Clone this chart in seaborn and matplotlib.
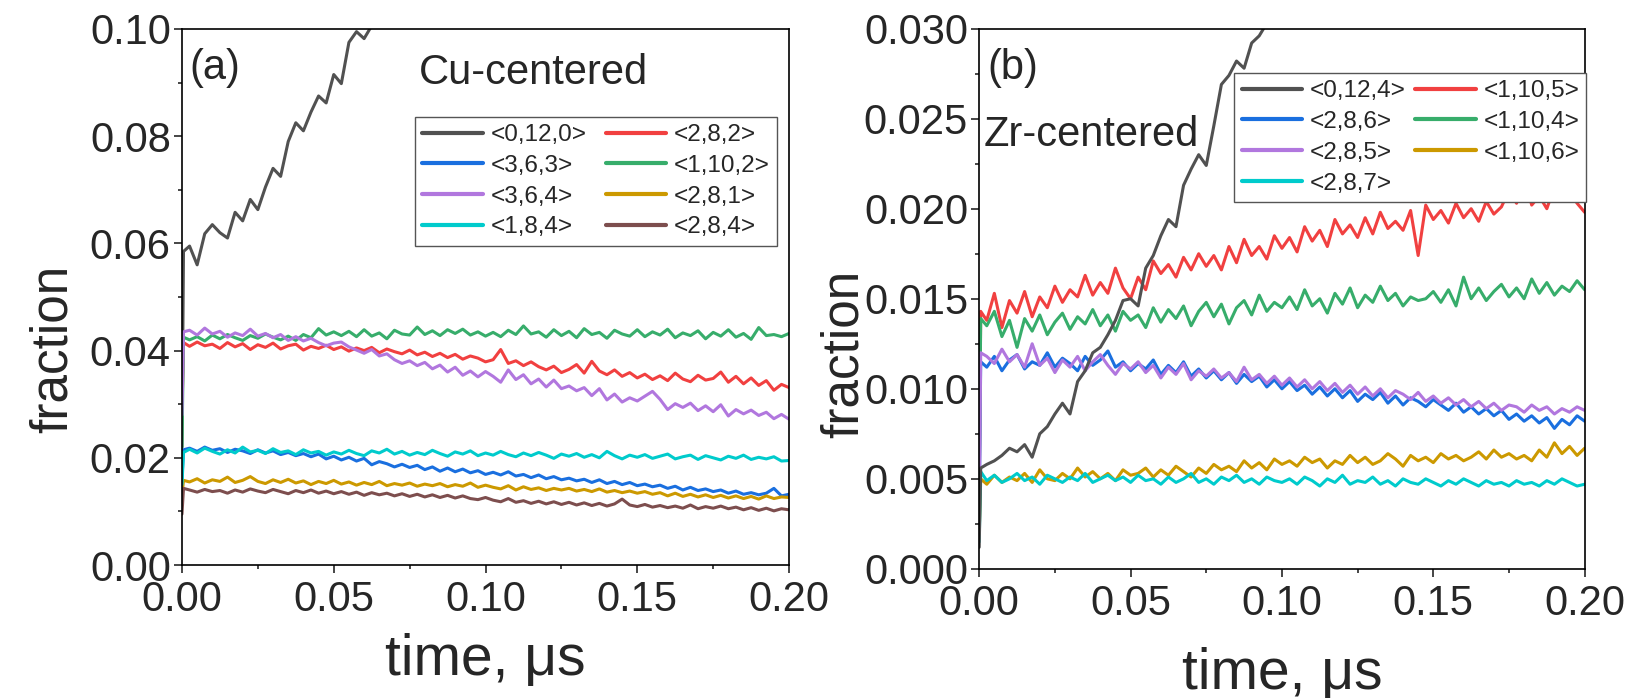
import numpy as np
import pandas as pd
import matplotlib
matplotlib.use("Agg")
import matplotlib.pyplot as plt
from matplotlib.ticker import MultipleLocator, FormatStrFormatter
import seaborn as sns

# time axis (us): t=0, the jump point, then every 0.0025 us
time = np.r_[0.0, 0.0005, np.arange(1, 81) * 0.0025]

# ---- (a) Cu-centered, values in units of 1e-3 ----
cu_0_12_0 = [22.0, 58.5,
             59.5, 56.0, 61.8, 63.5, 62.0, 61.0, 65.8, 64.2, 68.2, 66.3,
             70.5, 74.0, 72.5, 79.0, 82.5, 81.0, 84.5, 87.5, 86.2, 91.5,
             89.8, 97.5, 99.5, 98.2, 100.6, 102.0]
cu_2_8_2 = [28.0, 41.5,
            40.8, 41.6, 40.9, 41.2, 40.4, 41.5, 40.7, 41.3, 40.2, 41.1,
            40.6, 41.4, 40.3, 40.9, 41.2, 40.1, 40.8, 40.4, 41.0, 40.2,
            40.7, 39.9, 40.5, 40.0, 40.6, 39.6, 40.3, 39.8, 39.4, 40.1,
            39.2, 39.7, 38.9, 39.5, 38.7, 39.3, 38.4, 39.0, 38.6, 37.9,
            38.3, 40.2, 37.6, 38.1, 37.2, 37.9, 37.0, 36.4, 37.1, 35.9,
            36.5, 37.4, 35.8, 38.0, 36.2, 35.5, 36.4, 35.2, 35.9, 34.9,
            35.6, 34.6, 35.3, 34.4, 35.8, 34.7, 34.2, 35.4, 34.5, 34.8,
            36.0, 34.1, 35.2, 33.8, 34.9, 33.5, 34.4, 32.6, 33.7, 33.1]
cu_3_6_3 = [16.0, 21.5,
            21.8, 21.2, 22.0, 21.4, 21.7, 21.0, 21.6, 21.3, 20.8, 21.5,
            20.9, 21.3, 20.6, 21.0, 20.4, 20.8, 20.2, 20.7, 19.8, 20.3,
            19.6, 20.1, 19.4, 19.9, 18.7, 19.3, 18.9, 18.3, 18.8, 18.2,
            18.6, 17.8, 18.3, 17.5, 18.1, 17.4, 17.9, 17.2, 17.6, 16.9,
            17.3, 16.8, 17.4, 16.6, 16.9, 16.3, 16.8, 16.1, 16.5, 15.9,
            16.2, 15.7, 16.0, 15.4, 15.9, 15.2, 15.6, 15.0, 15.4, 14.8,
            15.1, 14.6, 14.9, 14.3, 14.7, 14.0, 14.5, 13.9, 14.2, 13.7,
            14.0, 13.4, 13.8, 13.2, 13.5, 13.1, 13.4, 14.3, 12.9, 13.2]
cu_1_10_2 = [22.0, 42.5,
             42.0, 42.6, 41.8, 42.9, 42.2, 43.0, 42.4, 41.9, 42.8, 42.3,
             43.1, 42.5, 42.0, 42.7, 41.9, 43.0, 42.4, 44.1, 42.9, 43.5,
             42.8, 43.6, 42.6, 43.9, 42.7, 43.3, 42.2, 43.8, 43.1, 42.9,
             44.4, 43.0, 43.7, 42.8, 43.9, 43.2, 44.0, 42.9, 43.5, 42.7,
             43.4, 42.6, 43.8, 43.0, 44.6, 43.1, 43.5, 42.5, 43.9, 42.8,
             43.6, 42.4, 44.1, 43.0, 43.4, 42.3, 43.8, 43.1, 42.7, 43.9,
             42.6, 43.5, 42.9, 44.0, 42.4, 43.3, 42.8, 43.7, 42.2, 43.4,
             42.7, 43.9, 42.5, 43.2, 42.1, 44.3, 42.8, 43.0, 42.6, 43.2]
cu_3_6_4 = [28.0, 43.5,
            43.8, 42.9, 44.2, 43.1, 43.6, 42.5, 43.3, 42.8, 44.0, 42.7,
            43.2, 42.4, 43.0, 41.9, 42.6, 41.8, 42.3, 41.5, 40.9, 41.4,
            41.6, 40.7, 40.1, 39.5, 40.2, 39.0, 39.4, 38.3, 37.6, 38.1,
            37.2, 37.8, 36.6, 37.3, 36.0, 36.9, 35.4, 36.2, 35.1, 36.1,
            35.2, 34.1, 36.4, 34.6, 35.5, 33.8, 34.7, 33.2, 34.5, 32.9,
            33.4, 32.5, 33.1, 31.6, 32.9, 30.8, 31.9, 30.4, 31.2, 30.6,
            31.5, 32.4, 30.9, 29.0, 30.1, 29.4, 30.2, 28.8, 29.7, 28.6,
            29.9, 27.8, 29.0, 28.2, 28.9, 27.9, 28.5, 27.3, 28.1, 27.2]
cu_2_8_1 = [13.0, 15.8,
            15.5, 16.1, 15.3, 15.9, 15.6, 16.4, 15.4, 15.8, 16.5, 15.6,
            15.2, 15.9, 15.4, 16.0, 15.3, 15.7, 15.0, 15.6, 15.2, 15.8,
            15.1, 15.5, 14.9, 15.4, 15.0, 15.6, 14.8, 15.2, 14.9, 15.3,
            14.7, 15.1, 14.8, 15.2, 14.6, 15.0, 14.7, 15.3, 14.5, 14.9,
            14.5, 14.2, 14.8, 14.0, 14.6, 14.1, 14.4, 13.9, 14.3, 14.0,
            14.3, 13.8, 14.1, 13.7, 14.2, 13.6, 13.9, 13.5, 13.8, 13.4,
            13.7, 13.2, 13.5, 12.9, 13.4, 12.8, 13.2, 12.7, 13.1, 12.6,
            13.0, 12.5, 12.9, 12.4, 12.8, 12.3, 12.9, 12.4, 12.7, 12.6]
cu_1_8_4 = [15.0, 21.0,
            21.6, 20.9, 21.8, 21.2, 20.7, 21.5, 20.9, 22.0, 21.1, 21.4,
            20.8, 21.7, 21.0, 21.3, 20.6, 21.5, 20.9, 21.2, 20.5, 21.1,
            20.7, 21.4, 20.8, 20.4, 21.3, 20.9, 21.6, 20.7, 21.2, 20.5,
            21.0, 20.6, 21.4, 20.8, 20.3, 21.1, 20.7, 21.3, 20.4, 20.9,
            20.5, 21.2, 20.6, 20.2, 20.9, 20.4, 21.0, 20.5, 19.9, 20.7,
            20.3, 20.8, 20.1, 20.6, 20.0, 21.2, 20.4, 19.8, 20.5, 20.1,
            20.6, 19.9, 20.3, 20.7, 19.8, 20.2, 20.5, 19.7, 20.4, 20.0,
            19.6, 20.3, 19.9, 20.5, 19.7, 20.1, 19.8, 20.2, 19.4, 19.5]
cu_2_8_4 = [9.5, 14.3,
            14.0, 13.6, 14.1, 13.7, 13.9, 13.4, 14.0, 13.6, 14.2, 13.8,
            13.5, 14.1, 13.7, 13.3, 13.9, 13.5, 14.0, 13.4, 13.8, 13.3,
            13.7, 13.2, 13.6, 13.0, 13.5, 13.1, 13.4, 12.9, 13.3, 12.8,
            13.2, 12.7, 13.1, 12.6, 13.0, 12.5, 12.9, 12.4, 12.2, 12.6,
            12.1, 11.8, 12.4, 11.7, 12.0, 11.5, 11.9, 11.4, 11.8, 11.3,
            11.7, 11.2, 11.6, 11.1, 11.5, 11.0, 11.4, 12.3, 11.2, 10.9,
            11.3, 10.8, 11.1, 10.7, 11.0, 10.6, 11.2, 10.5, 10.9, 10.6,
            11.0, 10.5, 10.8, 10.3, 10.7, 10.2, 10.6, 10.1, 10.5, 10.3]

# ---- (b) Zr-centered, values in units of 1e-3 ----
zr_0_12_4 = [1.2, 5.6,
             5.8, 6.0, 6.3, 6.7, 6.5, 6.9, 6.2, 7.5, 7.9, 8.6,
             9.2, 8.6, 10.4, 11.0, 12.0, 12.3, 13.0, 13.8, 14.9, 15.0,
             14.6, 16.7, 17.4, 18.5, 19.4, 19.0, 21.3, 22.2, 23.0, 22.4,
             24.6, 26.9, 27.4, 28.2, 27.8, 29.2, 29.6, 30.3, 31.0]
zr_1_10_5 = [4.0, 14.3,
             13.8, 15.3, 13.4, 14.9, 14.2, 15.4, 14.0, 15.1, 14.5, 15.7,
             14.8, 15.5, 15.1, 16.3, 15.2, 15.9, 15.3, 16.7, 15.6, 15.0,
             16.2, 15.5, 17.1, 16.4, 16.9, 16.2, 17.3, 16.6, 17.5, 16.8,
             17.4, 16.6, 17.9, 17.0, 18.3, 17.4, 17.9, 17.2, 18.5, 17.8,
             18.4, 17.6, 19.0, 18.2, 18.8, 17.9, 19.4, 18.6, 19.1, 18.4,
             19.5, 18.6, 19.8, 18.9, 19.3, 18.8, 19.9, 17.4, 20.2, 19.4,
             19.9, 19.2, 20.3, 19.5, 20.0, 19.3, 20.4, 19.7, 20.1, 21.0,
             20.3, 21.8, 20.2, 20.7, 20.0, 21.2, 20.4, 20.9, 20.3, 19.8]
zr_2_8_6 = [3.0, 11.5,
            11.2, 11.8, 11.0, 11.6, 11.9, 11.1, 11.5, 11.3, 12.0, 11.2,
            11.7, 11.4, 11.0, 11.8, 11.3, 11.6, 12.1, 11.2, 11.5, 11.0,
            11.4, 11.1, 11.6, 10.8, 11.3, 10.9, 11.5, 10.7, 11.1, 10.6,
            11.0, 10.5, 10.9, 10.3, 10.8, 10.4, 10.7, 10.1, 10.5, 10.0,
            10.4, 9.9, 10.2, 9.7, 10.1, 9.6, 10.0, 9.5, 9.9, 9.3,
            9.7, 9.4, 9.8, 9.2, 9.6, 9.1, 9.5, 9.3, 9.0, 9.4,
            9.1, 8.8, 9.2, 8.7, 9.0, 8.6, 8.9, 8.5, 8.8, 8.3,
            8.6, 8.2, 8.5, 8.1, 8.4, 7.8, 8.3, 8.0, 8.5, 8.2]
zr_1_10_4 = [4.5, 13.9,
             13.5, 14.3, 12.9, 13.8, 12.3, 13.9, 13.2, 14.1, 13.0, 13.7,
             14.2, 13.3, 14.0, 13.6, 14.4, 13.5, 14.1, 13.2, 14.3, 13.8,
             14.1, 13.4, 14.5, 13.7, 14.4, 13.9, 14.6, 13.5, 14.3, 14.8,
             14.0, 14.7, 13.6, 14.5, 14.9, 14.1, 15.2, 14.3, 14.8, 14.5,
             15.1, 14.4, 15.5, 14.6, 15.0, 14.2, 15.3, 14.7, 15.6, 14.5,
             15.2, 14.8, 15.7, 14.9, 15.3, 14.6, 15.1, 14.9, 15.0, 15.4,
             14.8, 15.5, 14.6, 16.2, 15.0, 15.6, 14.9, 15.4, 15.8, 15.1,
             15.6, 15.0, 16.1, 15.3, 15.9, 15.2, 15.7, 15.4, 16.0, 15.5]
zr_2_8_5 = [2.5, 12.0,
            11.8, 11.4, 12.2, 11.5, 11.9, 11.2, 12.5, 11.3, 11.7, 10.9,
            11.6, 11.2, 11.8, 11.0, 11.5, 11.9, 11.3, 10.8, 11.4, 11.1,
            11.5, 10.9, 11.3, 10.6, 11.2, 10.8, 11.4, 10.5, 11.0, 10.7,
            11.1, 10.6, 10.9, 10.4, 11.2, 10.5, 10.8, 10.3, 10.7, 10.2,
            10.6, 10.1, 10.5, 10.0, 10.4, 9.9, 10.3, 9.8, 10.2, 9.7,
            10.1, 9.6, 10.0, 9.5, 9.9, 9.7, 9.4, 9.8, 9.3, 9.6,
            9.2, 9.5, 9.1, 9.4, 9.0, 9.3, 8.9, 9.2, 8.8, 9.1,
            9.0, 8.7, 9.1, 8.8, 9.0, 8.6, 8.9, 8.7, 9.0, 8.8]
zr_1_10_6 = [2.0, 5.0,
             4.7, 5.2, 4.8, 5.1, 4.9, 5.3, 4.8, 5.5, 5.0, 4.9,
             5.3, 5.0, 5.6, 5.1, 5.4, 5.0, 5.3, 4.9, 5.5, 5.2,
             5.3, 5.6, 5.1, 5.5, 5.2, 5.7, 5.4, 5.1, 5.6, 5.3,
             5.8, 5.5, 5.7, 5.4, 6.0, 5.6, 5.9, 5.5, 6.1, 5.8,
             6.0, 5.7, 6.2, 5.9, 6.1, 5.6, 6.0, 5.8, 6.3, 5.9,
             6.2, 5.8, 6.0, 6.4, 6.1, 5.7, 6.3, 6.0, 6.2, 5.9,
             6.4, 6.1, 6.3, 6.0, 6.2, 6.5, 6.1, 6.6, 6.2, 6.4,
             6.1, 6.3, 6.0, 6.6, 6.2, 7.0, 6.4, 6.8, 6.3, 6.7]
zr_2_8_7 = [1.5, 5.4,
            4.9, 5.2, 4.8, 5.0, 5.3, 4.9, 5.1, 4.7, 5.2, 5.0,
            4.8, 5.1, 4.9, 5.3, 4.8, 5.0, 5.2, 4.9, 5.1, 4.8,
            5.2, 4.9, 5.0, 4.7, 5.1, 4.8, 5.0, 5.3, 4.8, 5.0,
            4.7, 5.1, 4.9, 5.2, 4.8, 5.0, 4.7, 5.1, 4.9, 4.8,
            5.0, 4.7, 5.1, 4.9, 4.6, 5.0, 4.8, 5.2, 4.7, 4.9,
            4.8, 5.1, 4.7, 4.9, 4.6, 5.0, 4.8, 4.7, 5.0, 4.8,
            4.6, 4.9, 4.7, 5.0, 4.8, 4.6, 4.9, 4.7, 4.8, 4.6,
            4.9, 4.7, 4.8, 4.6, 4.9, 4.7, 5.0, 4.8, 4.6, 4.7]

colors = {"black": "#515151", "red": "#F14040", "blue": "#1A6FDF", "green": "#37AD6B",
          "purple": "#B177DE", "gold": "#CC9900", "cyan": "#00CBCC", "brown": "#7D4E4E"}

# (label, values, color), in drawing order
cu_series = [("<0,12,0>", cu_0_12_0, "black"), ("<2,8,2>", cu_2_8_2, "red"),
             ("<3,6,3>", cu_3_6_3, "blue"), ("<1,10,2>", cu_1_10_2, "green"),
             ("<3,6,4>", cu_3_6_4, "purple"), ("<2,8,1>", cu_2_8_1, "gold"),
             ("<1,8,4>", cu_1_8_4, "cyan"), ("<2,8,4>", cu_2_8_4, "brown")]
cu_legend = ["<0,12,0>", "<3,6,3>", "<3,6,4>", "<1,8,4>",
             "<2,8,2>", "<1,10,2>", "<2,8,1>", "<2,8,4>"]

zr_series = [("<1,10,5>", zr_1_10_5, "red"), ("<2,8,6>", zr_2_8_6, "blue"),
             ("<1,10,4>", zr_1_10_4, "green"), ("<2,8,5>", zr_2_8_5, "purple"),
             ("<1,10,6>", zr_1_10_6, "gold"), ("<2,8,7>", zr_2_8_7, "cyan"),
             ("<0,12,4>", zr_0_12_4, "black")]
zr_legend = ["<0,12,4>", "<2,8,6>", "<2,8,5>", "<2,8,7>",
             "<1,10,5>", "<1,10,4>", "<1,10,6>"]

sns.set_style("ticks")
plt.rcParams["font.family"] = ["Liberation Sans", "DejaVu Sans"]
plt.rcParams["axes.linewidth"] = 1.2

fig = plt.figure(figsize=(16.32, 6.98), dpi=100)
ax1 = fig.add_axes([0.1115, 0.1905, 0.372, 0.768])
ax2 = fig.add_axes([0.600, 0.185, 0.371, 0.774])


def draw(ax, series, order):
    handles = {}
    for lab, vals, c in series:
        df = pd.DataFrame({"time": time[:len(vals)], "fraction": np.array(vals) / 1000})
        sns.lineplot(data=df, x="time", y="fraction", ax=ax, color=colors[c],
                     lw=2.2, estimator=None, sort=False, label=lab, legend=False)
        handles[lab] = ax.lines[-1]
    return [handles[l] for l in order]


h1 = draw(ax1, cu_series, cu_legend)
h2 = draw(ax2, zr_series, zr_legend)

for ax in (ax1, ax2):
    ax.set_xlim(0, 0.2)
    ax.xaxis.set_major_locator(MultipleLocator(0.05))
    ax.xaxis.set_minor_locator(MultipleLocator(0.025))
    ax.xaxis.set_major_formatter(FormatStrFormatter("%.2f"))
    ax.tick_params(which="major", direction="out", length=6, width=1.2, labelsize=30)
    ax.tick_params(which="minor", direction="out", length=3, width=1.2)
    ax.tick_params(axis="y", pad=2)
    ax.tick_params(axis="x", pad=5)
    ax.set_xlabel("time, \u03bcs", fontsize=41)
    ax.set_ylabel("fraction", fontsize=37)
    for s in ax.spines.values():
        s.set_visible(True)
        s.set_color("black")

ax1.xaxis.set_label_coords(0.5, -0.126)
ax2.xaxis.set_label_coords(0.5, -0.145)
ax1.yaxis.set_label_coords(-0.171, 0.403)
ax2.yaxis.set_label_coords(-0.182, 0.398)

ax1.set_ylim(0, 0.1)
ax1.yaxis.set_major_locator(MultipleLocator(0.02))
ax1.yaxis.set_minor_locator(MultipleLocator(0.01))
ax1.yaxis.set_major_formatter(FormatStrFormatter("%.2f"))

ax2.set_ylim(0, 0.03)
ax2.yaxis.set_major_locator(MultipleLocator(0.005))
ax2.yaxis.set_minor_locator(MultipleLocator(0.0025))
ax2.yaxis.set_major_formatter(FormatStrFormatter("%.3f"))

ax1.text(0.012, 0.965, "(a)", transform=ax1.transAxes, fontsize=30, va="top")
ax1.text(0.39, 0.955, "Cu-centered", transform=ax1.transAxes, fontsize=30, va="top")
ax2.text(0.014, 0.965, "(b)", transform=ax2.transAxes, fontsize=30, va="top")
ax2.text(0.008, 0.84, "Zr-centered", transform=ax2.transAxes, fontsize=30, va="top")

leg1 = ax1.legend(handles=h1, labels=cu_legend, ncol=2, loc="upper right",
                  bbox_to_anchor=(0.98, 0.836), borderaxespad=0, fontsize=17.5,
                  handlelength=2.5, handletextpad=0.3, columnspacing=0.8,
                  labelspacing=0.36, borderpad=0.3, fancybox=False, framealpha=1)
leg2 = ax2.legend(handles=h2, labels=zr_legend, ncol=2, loc="upper right",
                  bbox_to_anchor=(1.003, 0.918), borderaxespad=0, fontsize=17.5,
                  handlelength=2.5, handletextpad=0.3, columnspacing=0.4,
                  labelspacing=0.36, borderpad=0.3, fancybox=False, framealpha=1)
for leg in (leg1, leg2):
    leg.get_frame().set_edgecolor("#555555")
    leg.get_frame().set_linewidth(1.0)
    for ln in leg.get_lines():
        ln.set_linewidth(3.0)

fig.savefig("out.png", dpi=100)
